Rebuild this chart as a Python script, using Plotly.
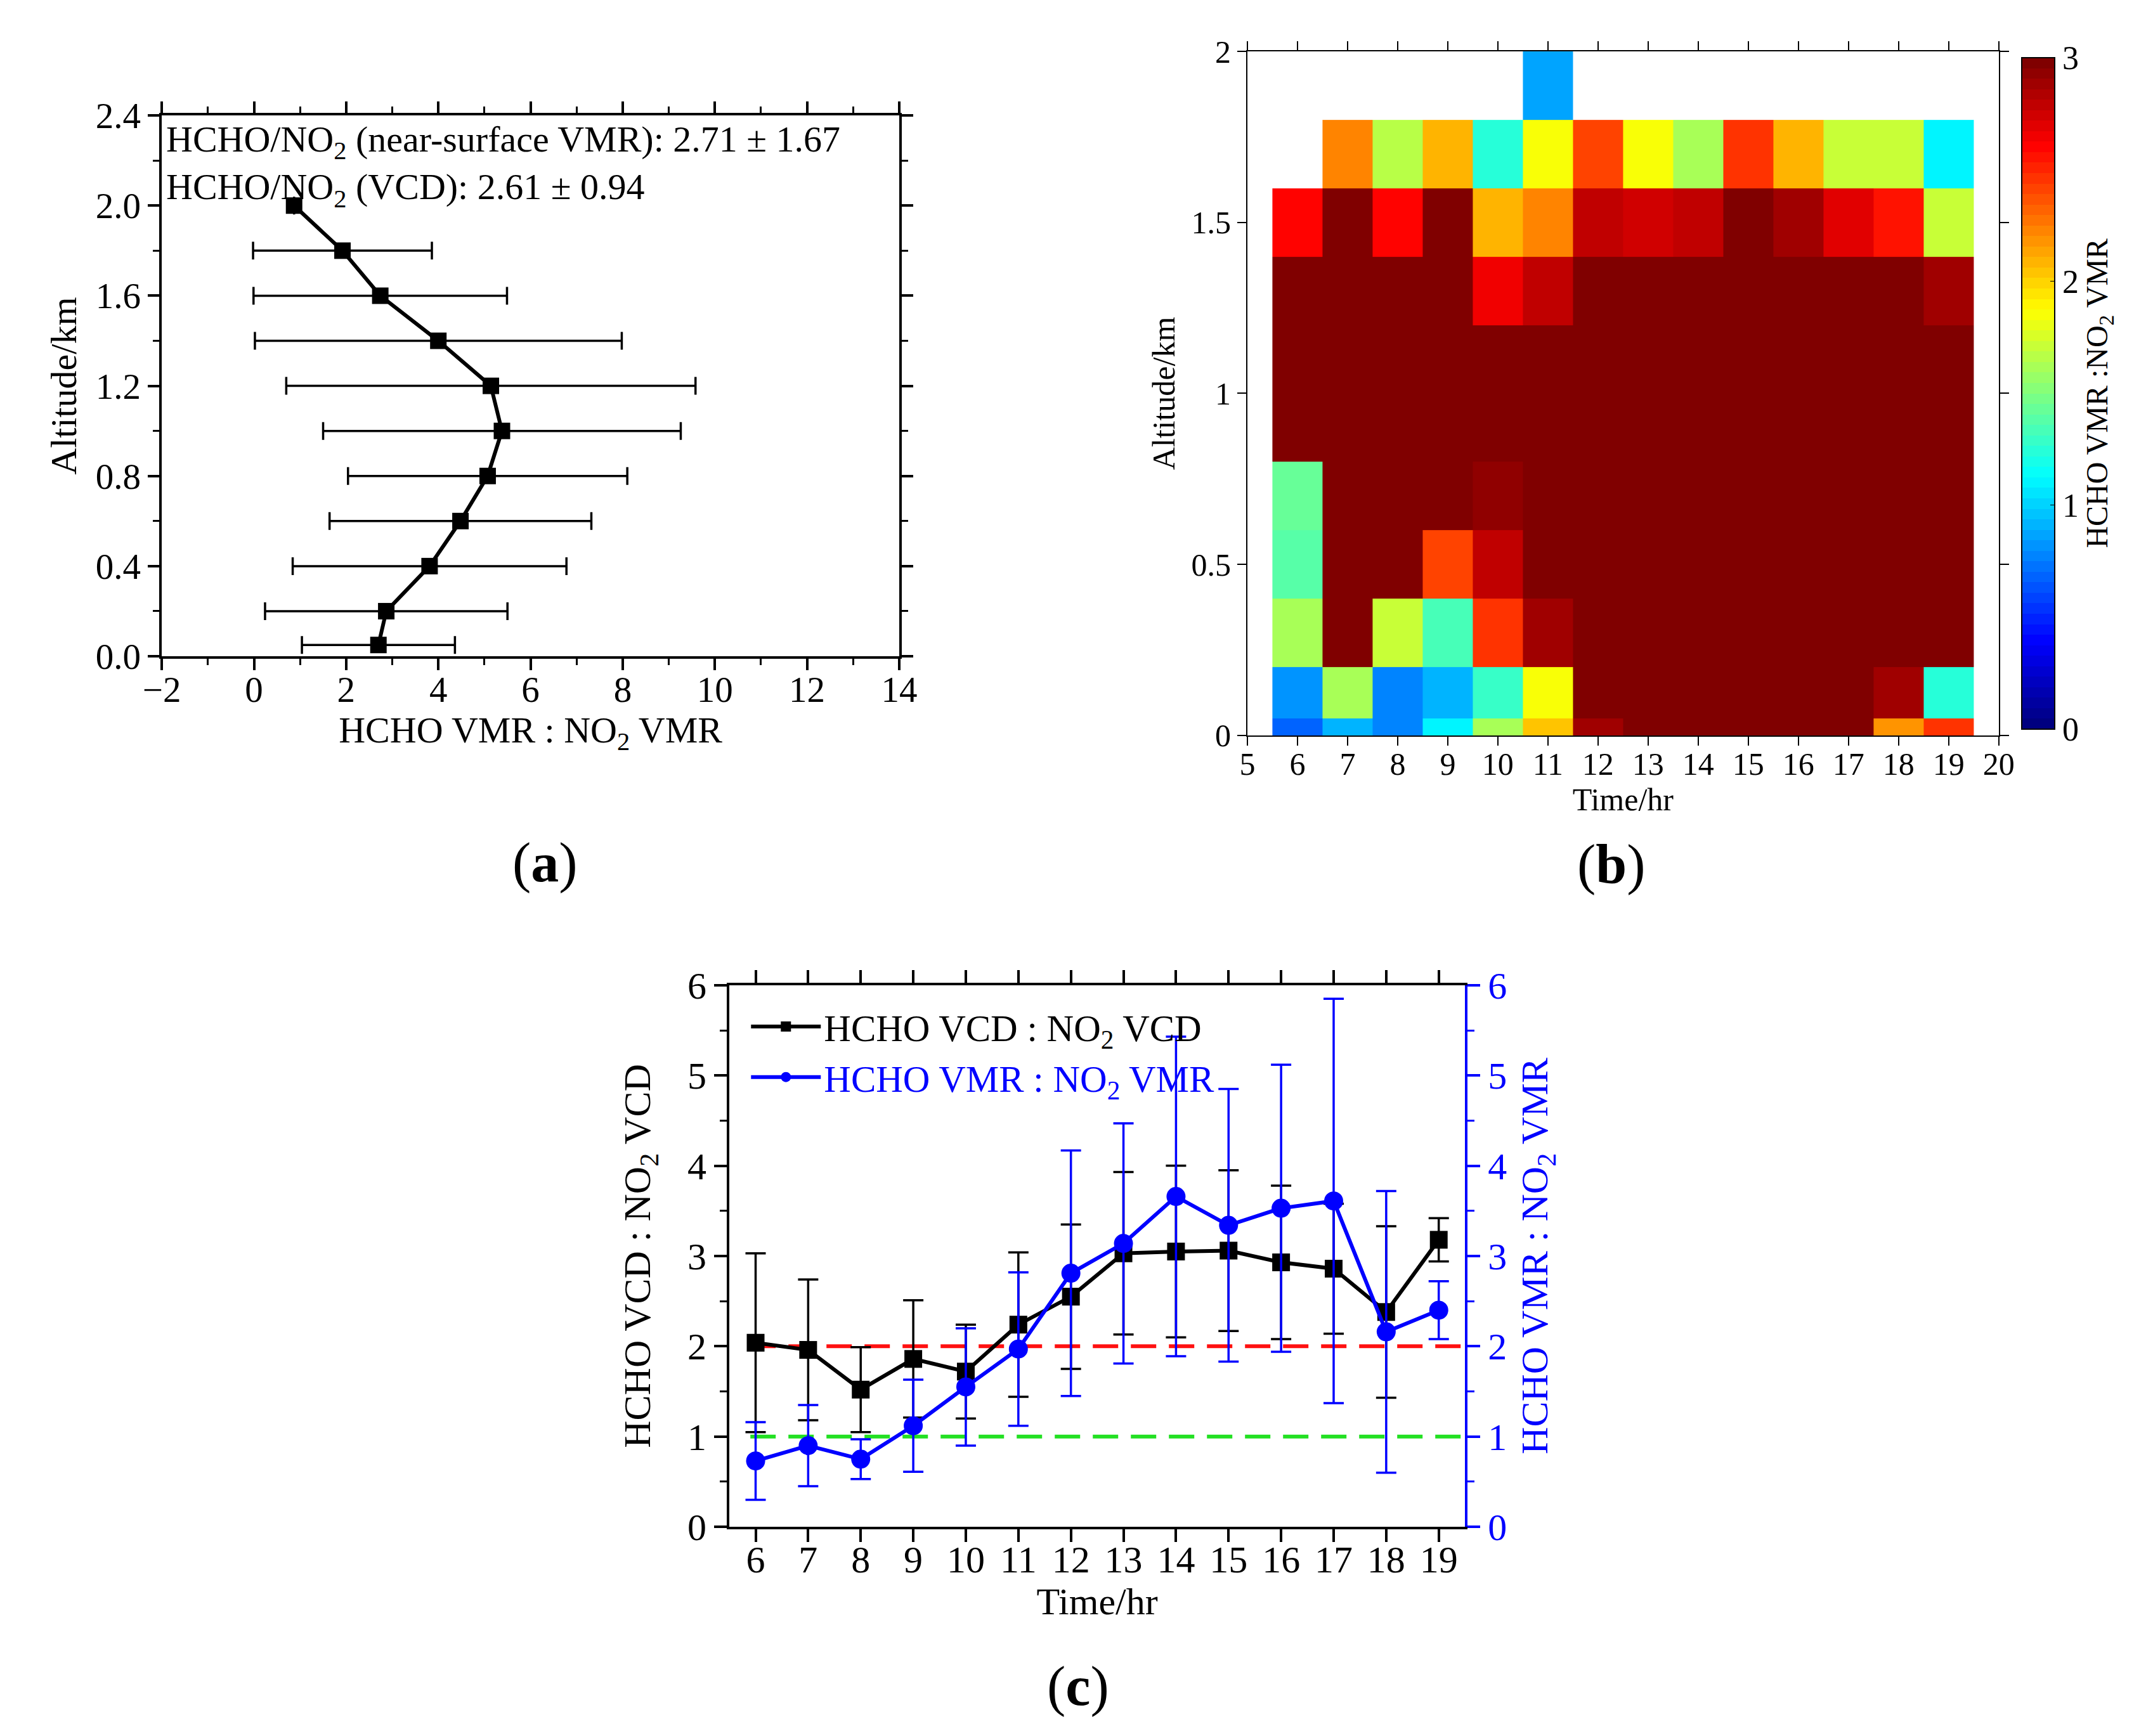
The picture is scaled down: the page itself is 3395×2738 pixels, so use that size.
import numpy as np
import plotly.graph_objects as go

# --- (a) mean HCHO/NO2 VMR ratio profile ---
alt_km = [0.05, 0.2, 0.4, 0.6, 0.8, 1.0, 1.2, 1.4, 1.6, 1.8, 2.0]
ratio_mean = [2.70, 2.87, 3.81, 4.48, 5.07, 5.38, 5.14, 4.00, 2.74, 1.92, 0.87]
ratio_err = [1.66, 2.63, 2.97, 2.84, 3.03, 3.88, 4.44, 3.98, 2.75, 1.94, None]
note_lines = ['HCHO/NO<sub>2</sub> (near-surface VMR): 2.71 ± 1.67',
              'HCHO/NO<sub>2</sub> (VCD): 2.61 ± 0.94']

# --- (b) diurnal VMR ratio by layer (rows bottom -> top, columns 6..19 h) ---
hour_edges = [5.5, 6.5, 7.5, 8.5, 9.5, 10.5, 11.5, 12.5, 13.5, 14.5, 15.5, 16.5, 17.5, 18.5, 19.5]
alt_edges = [0, 0.05, 0.2, 0.4, 0.6, 0.8, 1.0, 1.2, 1.4, 1.6, 1.8, 2.0]
heat_ratio = [
    [0.70, 0.93, 0.75, 1.12, 1.60, 2.05, 2.90, 4.6, 4.9, 5.2, 5.0, 4.7, 2.18, 2.44],
    [0.80, 1.60, 0.75, 0.92, 1.31, 1.87, 4.2, 4.8, 5.3, 5.1, 4.9, 4.5, 2.90, 1.22],
    [1.60, 3.6, 1.70, 1.33, 2.44, 2.90, 4.0, 4.9, 5.4, 5.6, 5.2, 4.7, 4.3, 3.8],
    [1.36, 3.9, 3.4, 2.43, 2.81, 4.1, 5.0, 5.6, 5.9, 6.1, 5.7, 5.3, 4.8, 4.2],
    [1.45, 4.3, 3.8, 3.5, 2.93, 4.6, 5.5, 6.0, 6.4, 6.6, 6.2, 5.8, 5.2, 4.6],
    [3.6, 4.8, 4.4, 4.1, 3.7, 5.0, 5.9, 6.4, 6.8, 7.0, 6.6, 6.1, 5.6, 4.9],
    [3.9, 5.0, 4.7, 4.5, 3.4, 4.9, 6.0, 6.5, 6.9, 7.1, 6.7, 6.2, 5.7, 5.0],
    [3.8, 4.6, 4.2, 3.9, 2.63, 2.81, 5.2, 5.6, 5.8, 6.0, 5.5, 5.1, 4.6, 2.88],
    [2.60, 3.4, 2.60, 3.2, 2.07, 2.21, 2.81, 2.74, 2.78, 3.3, 2.90, 2.68, 2.55, 1.70],
    [None, 2.21, 1.68, 2.07, 1.22, 1.87, 2.40, 1.87, 1.63, 2.44, 2.07, 1.69, 1.69, 1.10],
    [None, None, None, None, None, 0.89, None, None, None, None, None, None, None, None],
]

# --- (c) diurnal VCD and VMR ratios ---
hours = [6, 7, 8, 9, 10, 11, 12, 13, 14, 15, 16, 17, 18, 19]
vcd_ratio = [2.04, 1.96, 1.52, 1.86, 1.72, 2.24, 2.55, 3.03, 3.05, 3.06, 2.93, 2.86, 2.38, 3.18]
vcd_err = [0.99, 0.78, 0.47, 0.65, 0.52, 0.80, 0.80, 0.90, 0.95, 0.89, 0.85, 0.72, 0.95, 0.24]
vmr_ratio = [0.73, 0.90, 0.75, 1.12, 1.55, 1.97, 2.81, 3.14, 3.66, 3.34, 3.53, 3.61, 2.16, 2.40]
vmr_err = [0.43, 0.45, 0.22, 0.51, 0.65, 0.85, 1.36, 1.33, 1.77, 1.51, 1.59, 2.24, 1.56, 0.32]
ref_levels = [2, 1]
ref_colors = ['#ff1010', '#22e022']

FONT = 'Liberation Serif'
BLUE = '#0000ff'


def jet(t):
    r = np.clip(1.5 - abs(4 * t - 3), 0, 1)
    g = np.clip(1.5 - abs(4 * t - 2), 0, 1)
    b = np.clip(1.5 - abs(4 * t - 1), 0, 1)
    return 'rgb(%d,%d,%d)' % (round(r * 255), round(g * 255), round(b * 255))


# 64 stepped jet levels like the original colour bar
n_lev = 64
jet_steps = []
for i in range(n_lev):
    c = jet(i / (n_lev - 1))
    jet_steps.append([i / n_lev, c])
    jet_steps.append([(i + 1) / n_lev, c])

fig = go.Figure()

fig.add_trace(go.Scatter(
    x=ratio_mean, y=alt_km, mode='lines+markers',
    line=dict(color='black', width=6),
    marker=dict(symbol='square', size=26, color='black'),
    error_x=dict(type='data', array=ratio_err, color='black', thickness=3.5, width=14),
    xaxis='x', yaxis='y', showlegend=False))

fig.add_trace(go.Heatmap(
    x=hour_edges, y=alt_edges, z=heat_ratio, zmin=0, zmax=3,
    colorscale=jet_steps, xaxis='x2', yaxis='y2', hoverongaps=False,
    colorbar=dict(x=0.9337, xanchor='left', xpad=10, y=0.5793, yanchor='bottom', len=0.394,
                  lenmode='fraction', thickness=52, outlinewidth=2, outlinecolor='black',
                  tickvals=[0, 1, 2, 3], ticks='inside', ticklen=8, tickcolor='black',
                  tickfont=dict(family=FONT, size=52, color='black'),
                  title=dict(text='HCHO VMR :NO<sub>2</sub> VMR', side='right',
                             font=dict(family=FONT, size=48, color='black')))))

for lvl, col in zip(ref_levels, ref_colors):
    fig.add_trace(go.Scatter(
        x=[5.9, 19.5], y=[lvl, lvl], mode='lines',
        line=dict(color=col, width=6, dash='40px,20px'),
        xaxis='x3', yaxis='y3', showlegend=False, hoverinfo='skip'))

fig.add_trace(go.Scatter(
    x=hours, y=vcd_ratio, mode='lines+markers', name='HCHO VCD : NO<sub>2</sub> VCD',
    line=dict(color='black', width=6),
    marker=dict(symbol='square', size=28, color='black'),
    error_y=dict(type='data', array=vcd_err, color='black', thickness=3.5, width=16),
    xaxis='x3', yaxis='y3'))

fig.add_trace(go.Scatter(
    x=hours, y=vmr_ratio, mode='lines+markers',
    name="<span style='color:#0000ff'>HCHO VMR : NO<sub>2</sub> VMR</span>",
    line=dict(color=BLUE, width=6),
    marker=dict(symbol='circle', size=30, color=BLUE),
    error_y=dict(type='data', array=vmr_err, color=BLUE, thickness=3.5, width=16),
    xaxis='x3', yaxis='y4'))


def ax(**kw):
    base = dict(showline=True, linecolor='black', mirror='ticks', ticks='outside',
                tickcolor='black', showgrid=False, zeroline=False, automargin=False,
                title_font=dict(family=FONT, size=58, color='black'),
                tickfont=dict(family=FONT, size=57, color='black'))
    base.update(kw)
    return base


fig.update_layout(
    width=3395, height=2738,
    margin=dict(l=0, r=0, t=0, b=0),
    paper_bgcolor='white', plot_bgcolor='white',
    font=dict(family=FONT, size=56, color='black'),
    xaxis=ax(domain=[0.0728, 0.4153], anchor='y', range=[-2, 14], dtick=2,
             linewidth=3.5, tickwidth=3.5, ticklen=18, ticklabelstandoff=-18,
             minor=dict(dtick=1, ticks='outside', ticklen=10, tickwidth=3, tickcolor='black'),
             title=dict(text='HCHO VMR : NO<sub>2</sub> VMR', standoff=2)),
    yaxis=ax(domain=[0.6249, 0.9364], anchor='x', range=[0, 2.4], dtick=0.4, tickformat='.1f',
             linewidth=3.5, tickwidth=3.5, ticklen=18,
             minor=dict(dtick=0.2, ticks='outside', ticklen=10, tickwidth=3, tickcolor='black'),
             title=dict(text='Altitude/km', standoff=12)),
    xaxis2=ax(domain=[0.5770, 0.9260], anchor='y2', range=[5, 20], dtick=1,
              linewidth=2, tickwidth=2, ticklen=14, ticklabelstandoff=-14,
              tickfont=dict(family=FONT, size=50, color='black'),
              title=dict(text='Time/hr', standoff=2, font=dict(family=FONT, size=50, color='black'))),
    yaxis2=ax(domain=[0.5793, 0.9733], anchor='x2', range=[0, 2], dtick=0.5,
              linewidth=2, tickwidth=2, ticklen=14,
              tickfont=dict(family=FONT, size=50, color='black'),
              title=dict(text='Altitude/km', standoff=10, font=dict(family=FONT, size=50, color='black'))),
    xaxis3=ax(domain=[0.3364, 0.6781], anchor='y3', range=[5.5, 19.5], dtick=1,
              linewidth=4, tickwidth=4, ticklen=20, mirror='ticks', ticklabelstandoff=-24,
              tickfont=dict(family=FONT, size=60, color='black'),
              title=dict(text='Time/hr', standoff=0, font=dict(family=FONT, size=60, color='black'))),
    yaxis3=ax(domain=[0.1234, 0.4354], anchor='x3', range=[0, 6], dtick=1, mirror=False,
              linewidth=4, tickwidth=4, ticklen=20,
              tickfont=dict(family=FONT, size=60, color='black'),
              minor=dict(dtick=0.5, ticks='outside', ticklen=11, tickwidth=3, tickcolor='black'),
              title=dict(text='HCHO VCD : NO<sub>2</sub> VCD', standoff=40,
                         font=dict(family=FONT, size=60, color='black'))),
    yaxis4=ax(overlaying='y3', anchor='x3', side='right', range=[0, 6], dtick=1, mirror=False,
              linecolor=BLUE, tickcolor=BLUE, linewidth=4, tickwidth=4, ticklen=20,
              tickfont=dict(family=FONT, size=60, color=BLUE),
              minor=dict(dtick=0.5, ticks='outside', ticklen=11, tickwidth=3, tickcolor=BLUE),
              title=dict(text='HCHO VMR : NO<sub>2</sub> VMR', standoff=24,
                         font=dict(family=FONT, size=60, color=BLUE))),
    legend=dict(x=0.345, y=0.428, xanchor='left', yanchor='top', bgcolor='rgba(0,0,0,0)',
                font=dict(family=FONT, size=59, color='black'), itemwidth=110,
                tracegroupgap=0),
)

# two-line summary box in panel (a)
fig.add_annotation(x=0.0742, y=0.9075, xref='paper', yref='paper', text='<br>'.join(note_lines),
                   showarrow=False, xanchor='left', yanchor='middle', align='left',
                   font=dict(family=FONT, size=58, color='black'))

for lab, px, py in [('a', 0.2350, 0.5060), ('b', 0.7627, 0.5049), ('c', 0.4984, 0.0130)]:
    fig.add_annotation(x=px, y=py, xref='paper', yref='paper', text='(<b>%s</b>)' % lab,
                       showarrow=False, font=dict(family=FONT, size=88, color='black'))

fig.write_html('out.html')
